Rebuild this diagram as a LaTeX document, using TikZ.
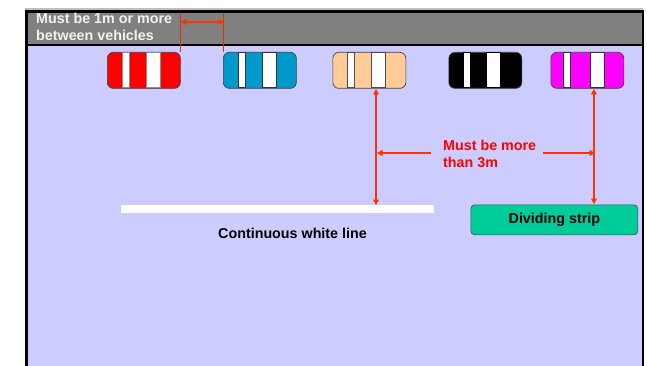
\documentclass[tikz,border=0pt]{standalone}
\usepackage{fontspec}
\setmainfont{Liberation Sans}
\usetikzlibrary{arrows.meta,calc}
\definecolor{lav}{HTML}{CCCCFF}
\definecolor{hdr}{HTML}{808080}
\definecolor{arrowred}{HTML}{FF3300}
\definecolor{carblue}{HTML}{0099CC}
\definecolor{carred}{HTML}{FF0000}
\definecolor{carmag}{HTML}{FF00FF}
\definecolor{peach}{HTML}{FFCC99}
\definecolor{strip}{HTML}{00CC99}
\tikzset{
  car/.style={draw=#1,line width=.7pt,rounded corners=6pt,minimum width=73pt,minimum height=36pt,inner sep=0pt,anchor=north west},
  carstripe/.style={fill=white,draw=#1,line width=.5pt},
  dim/.style={draw=arrowred,line width=1.3pt,{Triangle[length=5.5pt,width=6pt]}-{Triangle[length=5.5pt,width=6pt]}},
  dimone/.style={draw=arrowred,line width=1.3pt,-{Triangle[length=5.5pt,width=6pt]}},
  extline/.style={draw=arrowred!90!black,line width=.7pt},
  lbl/.style={font=\fontsize{14.3}{17}\selectfont\bfseries,inner sep=0pt,align=left},
}
\newcommand{\carshape}[6]{% name, x, fill, stripe line, stripe1 x, stripe2 x
  \node[car=black!75,fill=#3] (#1) at (#2,52) {};
  \path[carstripe=#4] (#5,52.4) rectangle ++(7.5,35.2);
  \path[carstripe=#4] (#6,52.4) rectangle ++(14,35.2);
}
\begin{document}
\begin{tikzpicture}[x=1pt,y=-1pt]
\useasboundingbox (0,0) rectangle (647,366);
\fill[black!25] (25,8.3) rectangle (643,10.2);
\fill[lav] (26,12) rectangle (643,366);
\fill[hdr] (27,12) rectangle (642,45);
\fill[black] (25,10) rectangle (644,13);
\fill[black] (25,44) rectangle (644,46);
\fill[black] (25,10) rectangle (28,366);
\fill[black] (642,10) rectangle (644,366);
\node[lbl,text=white!95!black,anchor=north west] (hdrtext) at (36,12.5) {Must be 1m or more\\between vehicles};
\carshape{redcar}{107}{carred}{black!45}{122}{146}
\carshape{bluecar}{223}{carblue}{black!80}{238}{262}
\carshape{peachcar}{332.5}{peach}{black!70}{347}{371}
\carshape{blackcar}{448.5}{black}{black}{463}{486}
\carshape{magcar}{550.5}{carmag}{black!80}{563}{590}
% spacing dimension
\coordinate (gapL) at (181,22);
\coordinate (gapR) at (224,22);
\draw[extline] (redcar.north east) -- ++(0,-39);
\draw[extline] ([xshift=.5pt]bluecar.north west) -- ++(0,-39);
\draw[dim] (gapL) -- (gapR);
% white line and strip
\node[fill=white,minimum width=313pt,minimum height=7.5pt,inner sep=0pt,anchor=north west] (wline) at (121,205) {};
\node[lbl,anchor=center] (wtext) at (292.5,233) {Continuous white line};
\node[draw=black!70,line width=.7pt,fill=strip,rounded corners=4pt,minimum width=167pt,minimum height=30pt,inner sep=0pt,font=\fontsize{14.3}{17}\selectfont\bfseries,anchor=north west] (dstrip) at (470.5,204.5) {Dividing strip};
% three metre label
\node[lbl,text=carred,anchor=west] (mlabel) at (443,154) {Must be more\\than 3m};
\coordinate (lTop) at (376,89);
\coordinate (lBot) at (376,205);
\coordinate (rTop) at (594,89);
\coordinate (rBot) at (594,204);
\draw[dim] (lTop) -- (lBot);
\draw[dim] (rTop) -- (rBot);
\coordinate (lHit) at (377,153);
\coordinate (rHit) at (595,153);
\coordinate (lStart) at (431,153);
\coordinate (rStart) at (543,153);
\draw[dimone] (lStart) -- (lHit);
\draw[dimone] (rStart) -- (rHit);
\end{tikzpicture}
\end{document}
